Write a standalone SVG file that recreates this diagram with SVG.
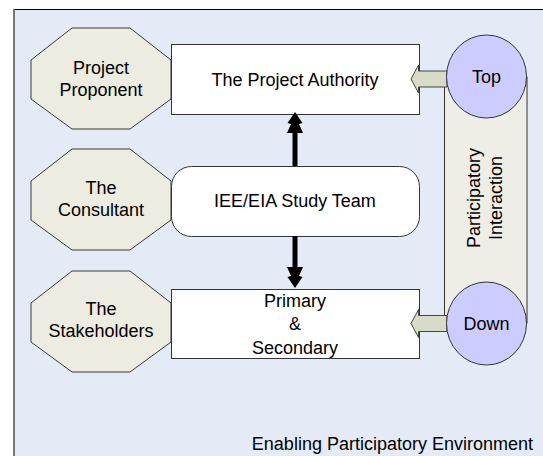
<svg xmlns="http://www.w3.org/2000/svg" width="543" height="456" viewBox="0 0 543 456">
<style>
text{font-family:"Liberation Sans",Arial,sans-serif;font-size:18px;fill:#000}
.oct{fill:#ECECE1;stroke:#3a3a3a;stroke-width:1}
.box{fill:#fff;stroke:#333;stroke-width:1}
.circ{fill:#CCCCFF;stroke:#333;stroke-width:1}
.blk{fill:#D8DCC6;stroke:#444;stroke-width:1}
.thick{fill:#000;stroke:none}
</style>
<g id="frame">
<rect x="14" y="9" width="540" height="460" fill="#E5EBF6"/>
<line x1="14" y1="9.5" x2="543" y2="9.5" stroke="#000" stroke-width="1"/>
<line x1="14" y1="9" x2="14" y2="456" stroke="#777" stroke-width="2"/>
<text x="533" y="450" text-anchor="end">Enabling Participatory Environment</text>
</g>
<g id="band">
<rect x="444.5" y="77" width="82.5" height="246" fill="#EEEEE6" stroke="#333" stroke-width="1"/>
<text transform="translate(480,198) rotate(-90)" text-anchor="middle">Participatory<tspan x="0" y="22">Interaction</tspan></text>
</g>
<g id="proponent">
<polygon class="oct" points="72,28 130,28 171,60 171,99 130,129 72,129 31,99 31,60"/>
<text x="101" y="74" text-anchor="middle">Project</text>
<text x="101" y="96" text-anchor="middle">Proponent</text>
</g>
<g id="consultant">
<polygon class="oct" points="72,149 130,149 171,181 171,220 130,250 72,250 31,220 31,181"/>
<text x="101" y="194" text-anchor="middle">The</text>
<text x="101" y="216" text-anchor="middle">Consultant</text>
</g>
<g id="stakeholders">
<polygon class="oct" points="72,271 130,271 171,303 171,342 130,372 72,372 31,342 31,303"/>
<text x="101" y="315" text-anchor="middle">The</text>
<text x="101" y="337" text-anchor="middle">Stakeholders</text>
</g>
<g id="authority">
<rect class="box" x="171.5" y="44.5" width="248" height="70"/>
<text x="295" y="86" text-anchor="middle">The Project Authority</text>
</g>
<g id="studyteam">
<rect class="box" x="171.5" y="166.5" width="248" height="70" rx="20" ry="20"/>
<text x="295" y="207" text-anchor="middle">IEE/EIA Study Team</text>
</g>
<g id="primary">
<rect class="box" x="171.5" y="289.5" width="248" height="69"/>
<text x="295" y="307" text-anchor="middle">Primary</text>
<text x="295" y="330" text-anchor="middle">&amp;</text>
<text x="295" y="354" text-anchor="middle">Secondary</text>
</g>
<g id="connectors">
<polygon class="blk" points="411,79 418.5,65 418.5,71 447,71 447,87 418.5,87 418.5,93"/>
<polygon class="blk" points="411,323.5 418.5,309.5 418.5,315.5 447,315.5 447,331.5 418.5,331.5 418.5,337.5"/>
<polygon class="thick" points="295,112 302.5,123 299,124 303,133 297.5,133 297.5,166 292.5,166 292.5,133 287,133 291,124 287.5,123"/>
<polygon class="thick" points="295,288 302.5,277 299,276 303,267 297.5,267 297.5,236 292.5,236 292.5,267 287,267 291,276 287.5,277"/>
</g>
<g id="top">
<ellipse class="circ" cx="486.5" cy="76.5" rx="40" ry="41.5"/>
<text x="486.5" y="83" text-anchor="middle">Top</text>
</g>
<g id="down">
<ellipse class="circ" cx="486.5" cy="323.5" rx="40" ry="41.5"/>
<text x="486.5" y="330" text-anchor="middle">Down</text>
</g>
</svg>
